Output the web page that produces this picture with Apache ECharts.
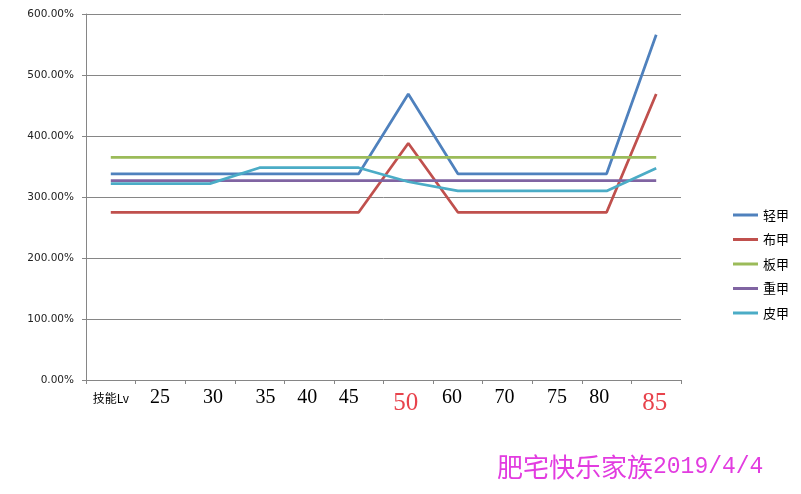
<!DOCTYPE html>
<html>
<head>
<meta charset="utf-8">
<script src="https://cdn.jsdelivr.net/npm/echarts@6/dist/echarts.min.js"></script>
<style>
html,body{margin:0;padding:0;background:#fff;}
#c{width:801px;height:494px;}
</style>
</head>
<body>
<div id="c"></div>
<script>
var categories = ['技能Lv','25','30','35','40','45','50','60','70','75','80','85'];
var highlightLabels = ['50','85'];
var seriesNames = ['轻甲','布甲','板甲','重甲','皮甲'];
var qingjia = [338,338,338,338,338,338,469,338,338,338,338,566];
var bujia   = [275,275,275,275,275,275,388,275,275,275,275,469];
var banjia  = [365,365,365,365,365,365,365,365,365,365,365,365];
var zhongjia= [327,327,327,327,327,327,327,327,327,327,327,327];
var pijia   = [322,322,322,348,348,348,325,310,310,310,310,347];
var watermarkText = '肥宅快乐家族';
var watermarkDate = '2019/4/4';

// styling: small horizontal nudges of the hand-placed tick labels (px)
var labelNudge = {'25':-0.5,'30':3,'35':6,'40':-2,'45':-10,'50':-2.5,'60':-6,'70':-3,'75':0,'80':-7.5,'85':-1.5};

var colors = ['#4F81BD','#C0504D','#9BBB59','#8064A2','#4BACC6'];
var values = [qingjia,bujia,banjia,zhongjia,pijia];
var gray = '#868686';

var rich = {};
categories.forEach(function(c,i){
  var st;
  if(c==='技能Lv') st={fontSize:12,lineHeight:36,color:'#000',fontFamily:'"Noto Sans CJK SC"'};
  else if(highlightLabels.indexOf(c)>=0) st={fontSize:25,lineHeight:46,color:'#E8434C',fontFamily:'"Liberation Serif"'};
  else st={fontSize:20,lineHeight:36,color:'#000',fontFamily:'"Liberation Serif"'};
  var d = labelNudge[c]||0;
  st.padding = [0, d<0?-2*d:0, 0, d>0?2*d:0];
  rich['l'+i]=st;
});

var chart = echarts.init(document.getElementById('c'));
chart.setOption({
  animation:false,
  grid:{left:86,right:120,top:14,bottom:114},
  legend:{
    orient:'vertical', left:733, top:208.5, padding:0,
    itemWidth:25, itemHeight:3, itemGap:11.5,
    icon:'rect',
    textStyle:{fontSize:13, color:'#000', fontFamily:'"Noto Sans CJK SC"'},
    data:seriesNames
  },
  xAxis:{
    type:'category', data:categories, boundaryGap:true,
    axisLine:{lineStyle:{color:gray,width:1}},
    axisTick:{show:true,interval:0,length:4,lineStyle:{color:gray}},
    axisLabel:{
      interval:0, margin:0,
      formatter:function(v,i){ return '{l'+i+'|'+v+'}'; },
      rich:rich
    }
  },
  yAxis:{
    type:'value', min:0, max:600, interval:100,
    axisLine:{show:true,lineStyle:{color:gray,width:1}},
    axisTick:{show:true,length:4,lineStyle:{color:gray}},
    splitLine:{show:true,lineStyle:{color:gray,width:1}},
    axisLabel:{
      margin:12, color:'#222', fontSize:10.5, fontFamily:'"DejaVu Sans"',
      formatter:function(v){return v.toFixed(2)+'%';}
    }
  },
  series:seriesNames.map(function(n,i){
    return {
      name:n, type:'line', data:values[i], showSymbol:false, symbol:'none',
      lineStyle:{color:colors[i],width:2.75}, itemStyle:{color:colors[i]}
    };
  }),
  graphic:[{
    type:'text', left:497, top:454,
    style:{
      text:'{a|'+watermarkText+'}{b|'+watermarkDate+'}',
      rich:{
        a:{fill:'#E23CE0',font:'26px "Noto Sans CJK SC"',lineHeight:26},
        b:{fill:'#E23CE0',font:'23px "Liberation Mono"',lineHeight:26}
      }
    }
  }]
});
</script>
</body>
</html>
